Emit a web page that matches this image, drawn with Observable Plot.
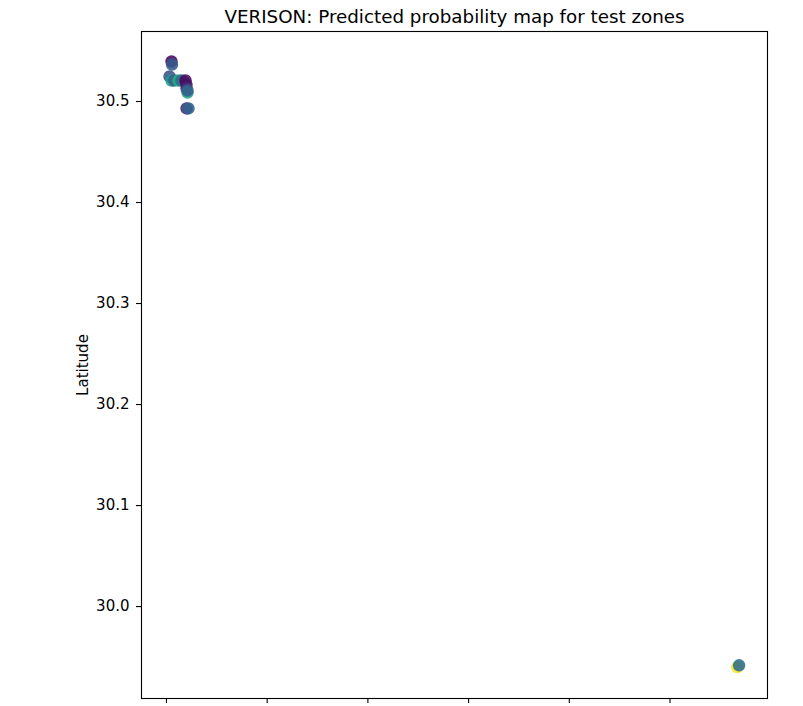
<!DOCTYPE html>
<html>
<head>
<meta charset="utf-8">
<script src="https://cdn.jsdelivr.net/npm/d3@7"></script>
<script src="https://cdn.jsdelivr.net/npm/@observablehq/plot@0.6"></script>
<style>
  html, body { margin: 0; padding: 0; background: #fff; }
  #chart svg { display: block; }
</style>
</head>
<body>
<div id="chart"></div>
<script>
const title = "VERISON: Predicted probability map for test zones";
const yLabel = "Latitude";
const xTicks = [31.0, 31.1, 31.2, 31.3, 31.4, 31.5];
const yTicks = [30.0, 30.1, 30.2, 30.3, 30.4, 30.5];
const yTickLabels = ["30.0", "30.1", "30.2", "30.3", "30.4", "30.5"];

// test zone points (longitude, latitude, predicted probability)
const lon = [31.0050, 31.0055, 31.0030, 31.0050, 31.0079, 31.0119, 31.0149, 31.0189, 31.0199, 31.0199, 31.0209, 31.0209, 31.0199, 31.0219, 31.5668, 31.5686];
const lat = [30.5396, 30.5366, 30.5248, 30.5208, 30.5208, 30.5208, 30.5208, 30.5208, 30.5168, 30.5129, 30.5089, 30.5109, 30.4931, 30.4931, 29.9401, 29.9419];
const prob = [0.02, 0.28, 0.25, 0.55, 0.30, 0.62, 0.35, 0.02, 0.04, 0.12, 0.60, 0.30, 0.10, 0.32, 0.98, 0.35];

const points = lon.map((x, i) => ({lon: x, lat: lat[i], p: prob[i]}));

const chart = Plot.plot({
  width: 803,
  height: 706,
  marginLeft: 141,
  marginRight: 36,
  marginTop: 31,
  marginBottom: 8,
  style: {fontFamily: "DejaVu Sans", fontSize: "15px", color: "#000", background: "#fff"},
  x: {domain: [30.9752, 31.5968]},
  y: {domain: [29.909, 30.5693]},
  color: {type: "linear", scheme: "viridis", domain: [0, 1]},
  marks: [
    Plot.frame({stroke: "#000", strokeWidth: 1.1}),
    Plot.axisX({ticks: xTicks, tickFormat: () => "", tickSize: 5, label: null, strokeWidth: 1.1}),
    Plot.axisY({ticks: yTicks, tickFormat: (d) => yTickLabels[yTicks.indexOf(d)], tickSize: 5, tickPadding: 7, label: null, fontSize: 15, strokeWidth: 1.1}),
    Plot.text([yLabel], {frameAnchor: "left", textAnchor: "middle", dx: -58, rotate: -90, text: d => d, fontSize: 15, fill: "#000"}),
    Plot.text([title], {frameAnchor: "top", dy: -22, text: d => d, fontSize: 18.3, fill: "#000"}),
    Plot.dot(points, {x: "lon", y: "lat", fill: "p", r: 6.2, fillOpacity: 0.88})
  ]
});
document.getElementById("chart").appendChild(chart);
</script>
</body>
</html>
